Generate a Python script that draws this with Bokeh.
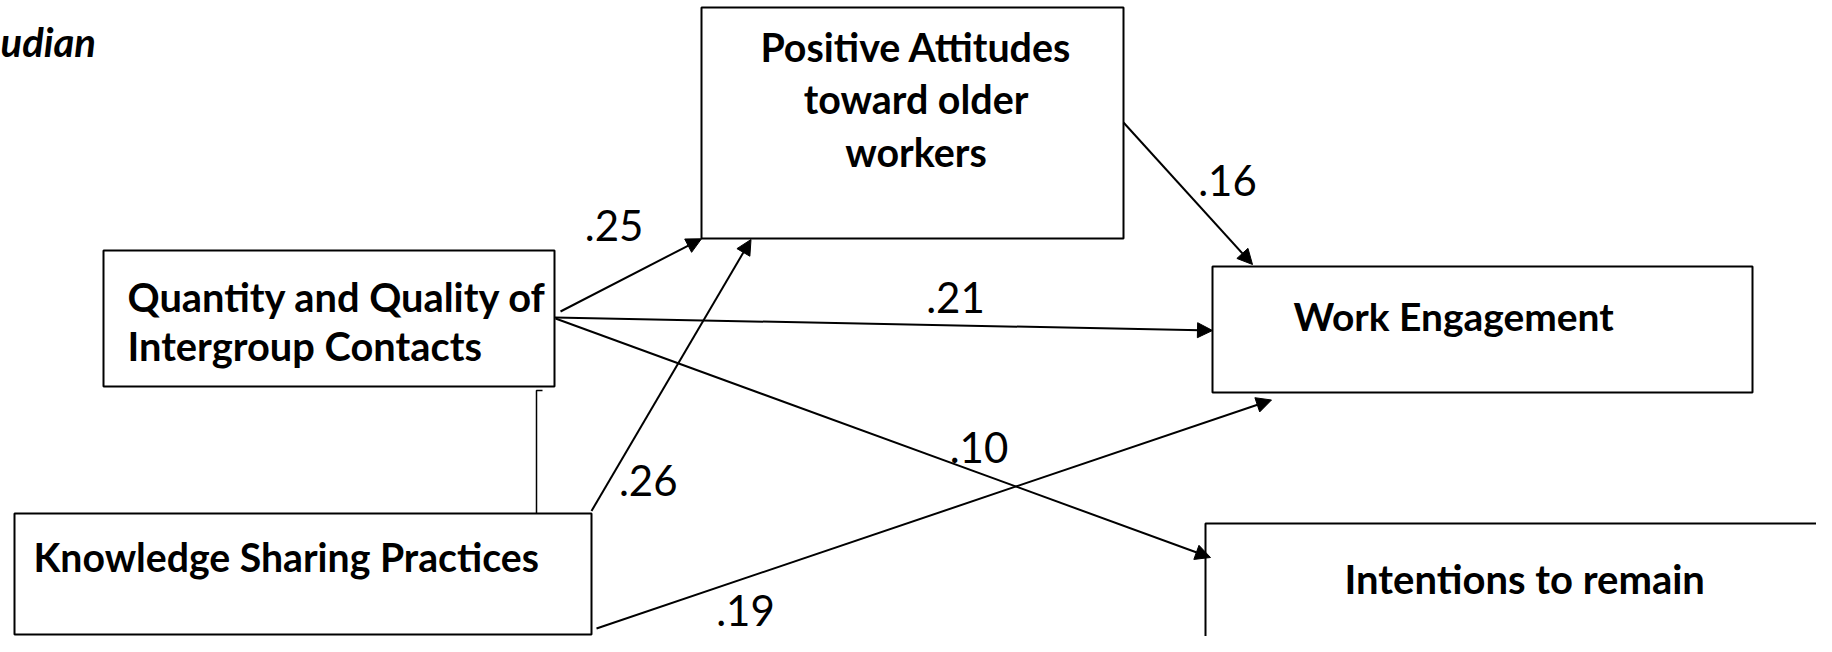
from bokeh.plotting import figure
from bokeh.models import Range1d, Arrow, NormalHead, ColumnDataSource
from bokeh.core.properties import value
from bokeh.embed import file_html
from bokeh.resources import INLINE

# ---------------- data ----------------
title_fragment = "udian"
node_names = ["Positive Attitudes toward older workers",
              "Quantity and Quality of Intergroup Contacts",
              "Knowledge Sharing Practices",
              "Work Engagement",
              "Intentions to remain"]
node_lines = [["Positive Attitudes", "toward older", "workers"],
              ["Quantity and Quality of", "Intergroup Contacts"],
              ["Knowledge Sharing Practices"],
              ["Work Engagement"],
              ["Intentions to remain"]]
path_from = [1, 1, 1, 2, 2, 0]
path_to = [0, 3, 4, 0, 3, 3]
path_coef = [0.25, 0.21, 0.10, 0.26, 0.19, 0.16]
path_labels = ["." + f"{c:.2f}".split(".")[1] for c in path_coef]

# ---------------- layout (screenshot pixel coordinates) ----------------
W, H = 1816, 636
BASE_SHIFT = 0.36  # alphabetic-baseline correction, in em

box_left = [701, 103, 14, 1212, 1205]
box_top = [7, 250, 513, 266, 523]
box_right = [1123, 554, 591, 1752, 1900]
box_bottom = [238, 386, 634, 392, 700]

text_x = [[915.5, 915.5, 915.5], [127, 127], [33], [1293], [1344]]
text_align = ["center", "left", "left", "left", "left"]
text_base = [[60, 112, 165], [310, 359], [570], [330], [593.3]]
text_size = [39.4, 39.8, 39.2, 38.9, 40]

arrow_start = [(560, 311), (554, 317), (555, 318), (591, 510.5), (596, 628), (1123, 122)]
arrow_end = [(701, 238.3), (1212, 330), (1210, 557), (750.5, 239), (1271, 399.5), (1252, 264)]
label_pos = [(613.6, 240.5), (955, 311.7), (978.5, 462), (647.7, 495), (745, 625), (1227, 195)]
label_size = 42

p = figure(width=W, height=H, output_backend="svg", toolbar_location=None,
           x_range=Range1d(0, W), y_range=Range1d(H, 0),
           min_border=0, outline_line_color=None)
p.axis.visible = False
p.grid.visible = False
p.background_fill_color = "white"
p.border_fill_color = "white"

# boxes
p.quad(left=box_left, right=box_right, top=box_top, bottom=box_bottom,
       fill_color="white", line_color="black", line_width=2)

# correlation bracket between Q and K
p.line(x=[542, 536, 536], y=[390, 390, 513], line_color="black", line_width=1.5)

# arrows
src = ColumnDataSource(dict(x0=[s[0] for s in arrow_start], y0=[s[1] for s in arrow_start],
                            x1=[e[0] for e in arrow_end], y1=[e[1] for e in arrow_end]))
p.add_layout(Arrow(source=src, x_start="x0", y_start="y0", x_end="x1", y_end="y1",
                   line_color="black", line_width=2,
                   end=NormalHead(size=15, fill_color="black", line_color="black", line_width=1)))

# coefficient labels
p.text(x=[l[0] for l in label_pos], y=[l[1] - BASE_SHIFT * label_size for l in label_pos],
       text=path_labels, text_font=value("Lato"), text_font_size=f"{label_size}px",
       text_color="black", text_align="center", text_baseline="alphabetic")

# node texts
for i, lines in enumerate(node_lines):
    s = text_size[i]
    p.text(x=text_x[i], y=[b - BASE_SHIFT * s for b in text_base[i]], text=lines,
           text_font=value("Lato"), text_font_style="bold", text_font_size=f"{s}px",
           text_color="black", text_align=text_align[i], text_baseline="alphabetic")

# title fragment
p.text(x=[0], y=[56 - BASE_SHIFT * 40], text=[title_fragment], text_font=value("Lato"),
       text_font_style="bold italic", text_font_size="40px", text_color="black",
       text_align="left", text_baseline="alphabetic")

open("out.html", "w").write(file_html(p, INLINE))
